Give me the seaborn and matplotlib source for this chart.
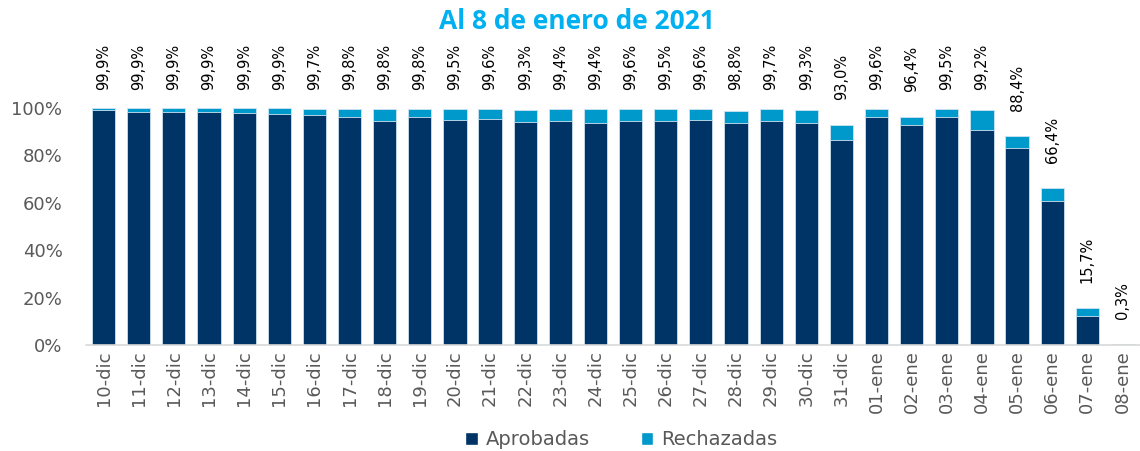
import numpy as np
import pandas as pd
import matplotlib
matplotlib.use('Agg')
import matplotlib.pyplot as plt
import seaborn as sns
from matplotlib.patches import Patch

fechas = ['10-dic', '11-dic', '12-dic', '13-dic', '14-dic', '15-dic', '16-dic', '17-dic',
          '18-dic', '19-dic', '20-dic', '21-dic', '22-dic', '23-dic', '24-dic', '25-dic',
          '26-dic', '27-dic', '28-dic', '29-dic', '30-dic', '31-dic', '01-ene', '02-ene',
          '03-ene', '04-ene', '05-ene', '06-ene', '07-ene', '08-ene']
# total (aprobadas + rechazadas), en %
total = [99.9, 99.9, 99.9, 99.9, 99.9, 99.9, 99.7, 99.8, 99.8, 99.8, 99.5, 99.6, 99.3, 99.4,
         99.4, 99.6, 99.5, 99.6, 98.8, 99.7, 99.3, 93.0, 99.6, 96.4, 99.5, 99.2, 88.4, 66.4,
         15.7, 0.3]
aprobadas = [99.1, 98.5, 98.5, 98.5, 98.1, 97.4, 97.0, 96.3, 94.4, 96.2, 94.9, 95.3, 94.0, 94.4,
             93.9, 94.4, 94.4, 95.1, 93.6, 94.4, 93.9, 86.4, 96.1, 92.9, 96.1, 90.6, 83.0, 60.6,
             12.4, 0.2]

c_aprob = '#003366'
c_rech = '#0099cc'
gris = '#595959'

df = pd.DataFrame({'fecha': fechas, 'total': total, 'aprobadas': aprobadas})

sns.set_style('white')
plt.rcParams['font.family'] = ['DejaVu Sans']

fig = plt.figure(figsize=(11.4, 4.51), dpi=100)
ax = fig.add_axes([0.0755, 0.235, 0.9245, 0.683])

# rechazadas = parte de arriba, se dibuja el total y encima las aprobadas
sns.barplot(data=df, x='fecha', y='total', color=c_rech, width=0.66, ax=ax,
            edgecolor='#cfe3f0', linewidth=0.6, saturation=1)
sns.barplot(data=df, x='fecha', y='aprobadas', color=c_aprob, width=0.66, ax=ax,
            edgecolor='#cfe3f0', linewidth=0.6, saturation=1)

ax.set_xlim(-0.5, 29.5)
ax.set_ylim(0, 130)
ax.set_yticks([0, 20, 40, 60, 80, 100])
ax.set_yticklabels([f'{v}%' for v in [0, 20, 40, 60, 80, 100]], fontsize=13, color=gris)
ax.set_xticks(range(len(fechas)))
ax.set_xticklabels(fechas, rotation=90, fontsize=13, color=gris)
ax.tick_params(axis='x', length=0, pad=4)
ax.tick_params(axis='y', length=0, pad=17)
ax.set_xlabel('')
ax.set_ylabel('')

for s in ['top', 'right', 'left']:
    ax.spines[s].set_visible(False)
ax.spines['bottom'].set_color('#d9d9d9')
ax.spines['bottom'].set_linewidth(1.2)

# etiquetas de total
for i, v in enumerate(total):
    y = min(v + 10.5, 107.5)
    ax.text(i, y, f'{v:.1f}'.replace('.', ',') + '%', rotation=90, ha='center', va='bottom',
            fontsize=10.5, color='black', clip_on=False)

fig.text(0.506, 0.953, 'Al 8 de enero de 2021', ha='center', va='center',
         fontsize=19, fontweight='bold', color='#00b0f0', family='Open Sans')

handles = [Patch(facecolor=c_aprob, label='Aprobadas'), Patch(facecolor=c_rech, label='Rechazadas')]
fig.legend(handles=handles, loc='center', bbox_to_anchor=(0.545, 0.025), ncol=2, frameon=False,
           fontsize=14, handlelength=0.65, handleheight=0.65, columnspacing=2.6, handletextpad=0.4,
           labelcolor=gris)

fig.savefig('out.png', dpi=100)
